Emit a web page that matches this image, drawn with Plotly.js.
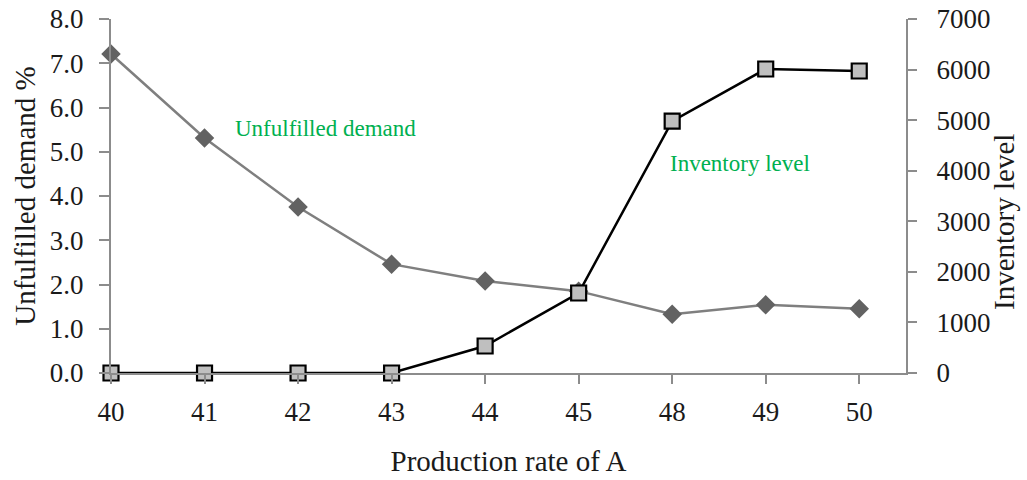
<!DOCTYPE html>
<html>
<head>
<meta charset="utf-8">
<script src="https://cdn.plot.ly/plotly-3.0.1.min.js"></script>
<style>
  html, body { margin: 0; padding: 0; background: #fff; }
  #chart { width: 1027px; height: 480px; }
</style>
</head>
<body>
<div id="chart"></div>
<script>
// Production rate of product A (categorical axis)
const productionRates = ['40', '41', '42', '43', '44', '45', '48', '49', '50'];
// Share of demand left unfulfilled, in percent (left axis)
const unfulfilledDemand = [7.21, 5.31, 3.75, 2.46, 2.08, 1.85, 1.33, 1.54, 1.45];
// Inventory level in units (right axis)
const inventoryLevel = [0, 0, 0, 0, 534, 1582, 4980, 6011, 5972];

const serif = 'Liberation Serif, Times New Roman, serif';
const axisGrey = '#8c8c8c';
const textColor = '#1a1a1a';
const tickFont = { family: serif, size: 27, color: textColor };
const titleFont = { family: serif, size: 29, color: textColor };

const traces = [
  {
    x: productionRates,
    y: unfulfilledDemand,
    type: 'scatter',
    mode: 'lines+markers',
    name: 'Unfulfilled demand',
    yaxis: 'y',
    cliponaxis: false,
    line: { color: '#7f7f7f', width: 2.5 },
    marker: { symbol: 'diamond', size: 15, color: '#626262', line: { width: 0 } }
  },
  {
    x: productionRates,
    y: inventoryLevel,
    type: 'scatter',
    mode: 'lines+markers',
    name: 'Inventory level',
    yaxis: 'y2',
    cliponaxis: false,
    line: { color: '#000000', width: 2.5 },
    marker: { symbol: 'square', size: 15, color: '#bfbfbf', line: { color: '#000000', width: 2.2 } }
  }
];

const layout = {
  width: 1027,
  height: 480,
  margin: { l: 111, r: 121, t: 19, b: 107 },
  paper_bgcolor: '#ffffff',
  plot_bgcolor: '#ffffff',
  showlegend: false,
  font: { family: serif, size: 27, color: textColor },
  xaxis: {
    type: 'category',
    range: [0, 8.5],
    showgrid: false,
    zeroline: false,
    showline: true,
    linecolor: axisGrey,
    linewidth: 2,
    ticks: 'outside',
    ticklen: 9,
    tickwidth: 2,
    tickcolor: axisGrey,
    ticklabelstandoff: 5,
    tickfont: tickFont,
    title: { text: 'Production rate of A', font: titleFont, standoff: 24 }
  },
  yaxis: {
    range: [0, 8],
    dtick: 1,
    tickformat: '.1f',
    showgrid: false,
    zeroline: false,
    showline: true,
    linecolor: axisGrey,
    linewidth: 2,
    ticks: 'outside',
    ticklen: 10,
    tickwidth: 2,
    tickcolor: axisGrey,
    ticklabelstandoff: 10,
    tickfont: tickFont,
    title: { text: 'Unfulfilled demand %', font: titleFont, standoff: 6 }
  },
  yaxis2: {
    overlaying: 'y',
    side: 'right',
    range: [0, 7000],
    dtick: 1000,
    showgrid: false,
    zeroline: false,
    showline: true,
    linecolor: axisGrey,
    linewidth: 2,
    ticks: 'outside',
    ticklen: 9,
    tickwidth: 2,
    tickcolor: axisGrey,
    ticklabelstandoff: 14,
    tickfont: tickFont
  },
  annotations: [
    {
      // right-hand axis title, set slightly below the axis middle
      text: 'Inventory level',
      xref: 'paper', yref: 'paper',
      x: 1.1233, y: 0.4266,
      xanchor: 'center', yanchor: 'middle',
      textangle: -90,
      showarrow: false,
      font: titleFont
    },
    {
      text: 'Unfulfilled demand',
      xref: 'paper', yref: 'paper',
      x: 0.1535, y: 0.692,
      xanchor: 'left', yanchor: 'middle',
      showarrow: false,
      font: { family: serif, size: 23, color: '#00b050' }
    },
    {
      text: 'Inventory level',
      xref: 'paper', yref: 'paper',
      x: 0.7006, y: 0.593,
      xanchor: 'left', yanchor: 'middle',
      showarrow: false,
      font: { family: serif, size: 23, color: '#00b050' }
    }
  ]
};

Plotly.newPlot('chart', traces, layout, { displayModeBar: false, staticPlot: true });
</script>
</body>
</html>
